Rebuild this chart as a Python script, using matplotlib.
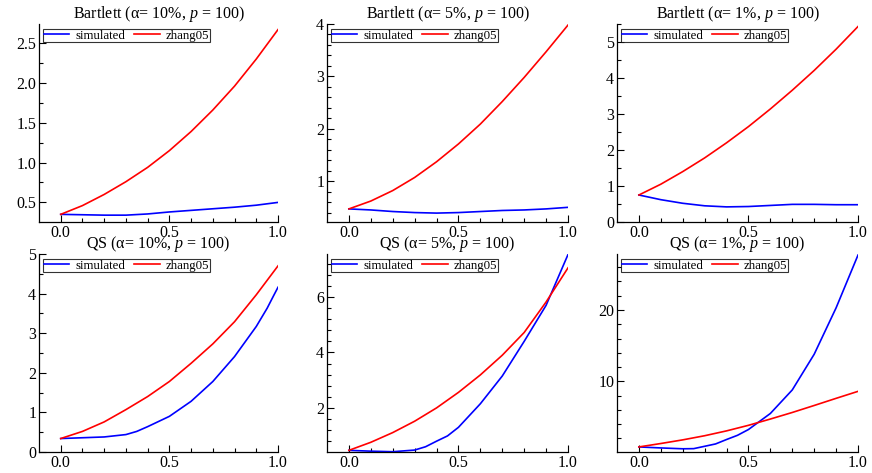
import matplotlib
matplotlib.use("Agg")
import matplotlib.pyplot as plt
from matplotlib.ticker import MultipleLocator, FixedLocator, FormatStrFormatter

plt.rcParams['font.family'] = ['Liberation Serif', 'DejaVu Serif']
plt.rcParams['mathtext.fontset'] = 'custom'
plt.rcParams['mathtext.rm'] = 'Liberation Serif'
plt.rcParams['mathtext.it'] = 'Liberation Serif:italic'

# values
x = [0.0, 0.1, 0.2, 0.3, 0.4, 0.5, 0.6, 0.7, 0.8, 0.9, 1.0]

bart10_zhang = [0.35, 0.46, 0.60, 0.76, 0.94, 1.15, 1.39, 1.66, 1.96, 2.30, 2.67]
bart10_sim = [0.35, 0.345, 0.34, 0.34, 0.355, 0.38, 0.40, 0.42, 0.44, 0.465, 0.50]

bart5_zhang = [0.47, 0.62, 0.82, 1.07, 1.37, 1.71, 2.09, 2.52, 2.98, 3.47, 3.98]
bart5_sim = [0.47, 0.45, 0.42, 0.40, 0.39, 0.40, 0.42, 0.44, 0.45, 0.47, 0.50]

bart1_zhang = [0.75, 1.05, 1.40, 1.78, 2.20, 2.65, 3.14, 3.66, 4.21, 4.80, 5.43]
bart1_sim = [0.75, 0.62, 0.52, 0.45, 0.42, 0.43, 0.46, 0.49, 0.49, 0.48, 0.48]

qs10_x_sim = [0.0, 0.1, 0.2, 0.3, 0.35, 0.4, 0.5, 0.6, 0.7, 0.8, 0.9, 0.95, 0.98, 1.0]
qs10_sim = [0.34, 0.36, 0.38, 0.44, 0.52, 0.64, 0.90, 1.28, 1.78, 2.41, 3.17, 3.63, 3.95, 4.16]
qs10_zhang = [0.34, 0.52, 0.76, 1.07, 1.40, 1.78, 2.24, 2.73, 3.29, 3.97, 4.70]

qs5_x_sim = [0.0, 0.1, 0.2, 0.25, 0.3, 0.35, 0.4, 0.45, 0.5, 0.6, 0.7, 0.8, 0.9, 1.0]
qs5_sim = [0.47, 0.44, 0.42, 0.45, 0.48, 0.60, 0.80, 0.99, 1.30, 2.15, 3.15, 4.40, 5.70, 7.53]
qs5_zhang = [0.47, 0.76, 1.11, 1.52, 2.00, 2.56, 3.19, 3.90, 4.72, 5.82, 7.05]

qs1_x_sim = [0.0, 0.1, 0.2, 0.25, 0.3, 0.35, 0.4, 0.45, 0.5, 0.6, 0.7, 0.8, 0.9, 1.0]
qs1_sim = [0.81, 0.67, 0.55, 0.57, 0.90, 1.23, 1.85, 2.44, 3.25, 5.50, 8.80, 13.8, 20.3, 27.7]
qs1_zhang = [0.81, 1.29, 1.80, 2.38, 3.06, 3.84, 4.72, 5.64, 6.62, 7.62, 8.60]

panels = [
    ('Bartlett', '10%', x, bart10_sim, bart10_zhang, (0.254, 2.74), 0.5, 0.25, '%.1f'),
    ('Bartlett', '5%', x, bart5_sim, bart5_zhang, (0.22, 4.0), 1, 0.2, '%d'),
    ('Bartlett', '1%', x, bart1_sim, bart1_zhang, (0.0, 5.5), 1, 0.5, '%d'),
    ('QS', '10%', qs10_x_sim, qs10_sim, qs10_zhang, (0.0, 5.0), 1, 0.5, '%d'),
    ('QS', '5%', qs5_x_sim, qs5_sim, qs5_zhang, (0.41, 7.55), 2, 0.4, '%d'),
    ('QS', '1%', qs1_x_sim, qs1_sim, qs1_zhang, (0.1, 27.85), 10, 2, '%d'),
]

W, H = 872, 473
fig = plt.figure(figsize=(W / 100, H / 100), dpi=100)

col_left = [39, 327, 617]
col_width = [239, 241, 241]
row_top = [24, 254]
row_h = 198

for i, (kernel, alpha, xs, sim, zhang, ylim, major, minor, fmt) in enumerate(panels):
    r, c = divmod(i, 3)
    ax = fig.add_axes([col_left[c] / W, 1 - (row_top[r] + row_h) / H,
                       col_width[c] / W, row_h / H])
    ax.plot(xs, sim, color='blue', lw=1.2, label='simulated', solid_joinstyle='round')
    ax.plot(x, zhang, color='red', lw=1.2, label='zhang05', solid_joinstyle='round')
    ax.set_xlim(-0.1, 1.0)
    ax.set_ylim(*ylim)
    ax.spines['top'].set_visible(False)
    ax.spines['right'].set_visible(False)
    for s in ('left', 'bottom'):
        ax.spines[s].set_linewidth(0.9)
    ax.xaxis.set_major_locator(FixedLocator([0.0, 0.5, 1.0]))
    ax.xaxis.set_minor_locator(FixedLocator([0.1, 0.2, 0.3, 0.4, 0.6, 0.7, 0.8, 0.9]))
    ax.xaxis.set_major_formatter(FormatStrFormatter('%.1f'))
    ax.yaxis.set_major_locator(MultipleLocator(major))
    ax.yaxis.set_minor_locator(MultipleLocator(minor))
    ax.yaxis.set_major_formatter(FormatStrFormatter(fmt))
    ax.tick_params(which='both', direction='in', labelsize=11.5, width=0.8)
    ax.tick_params(which='major', length=5)
    ax.tick_params(which='minor', length=2.8)
    ax.tick_params(axis='x', pad=2)
    ax.tick_params(axis='y', pad=2)
    ax.set_title(f'{kernel} (α= {alpha}, $p$ = 100)', fontsize=11.5, pad=0 if r else 3)
    leg = ax.legend(loc='upper left', bbox_to_anchor=(4 / col_width[c], 1 - 5 / row_h),
                    ncol=2, fontsize=9.3, frameon=True, fancybox=False,
                    borderaxespad=0, borderpad=0.05, handlelength=2.0,
                    handletextpad=0.45, columnspacing=0.7)
    leg.get_frame().set_edgecolor('black')
    leg.get_frame().set_linewidth(0.8)
    for line in leg.get_lines():
        line.set_linewidth(1.2)

fig.savefig('out.png', dpi=100)
